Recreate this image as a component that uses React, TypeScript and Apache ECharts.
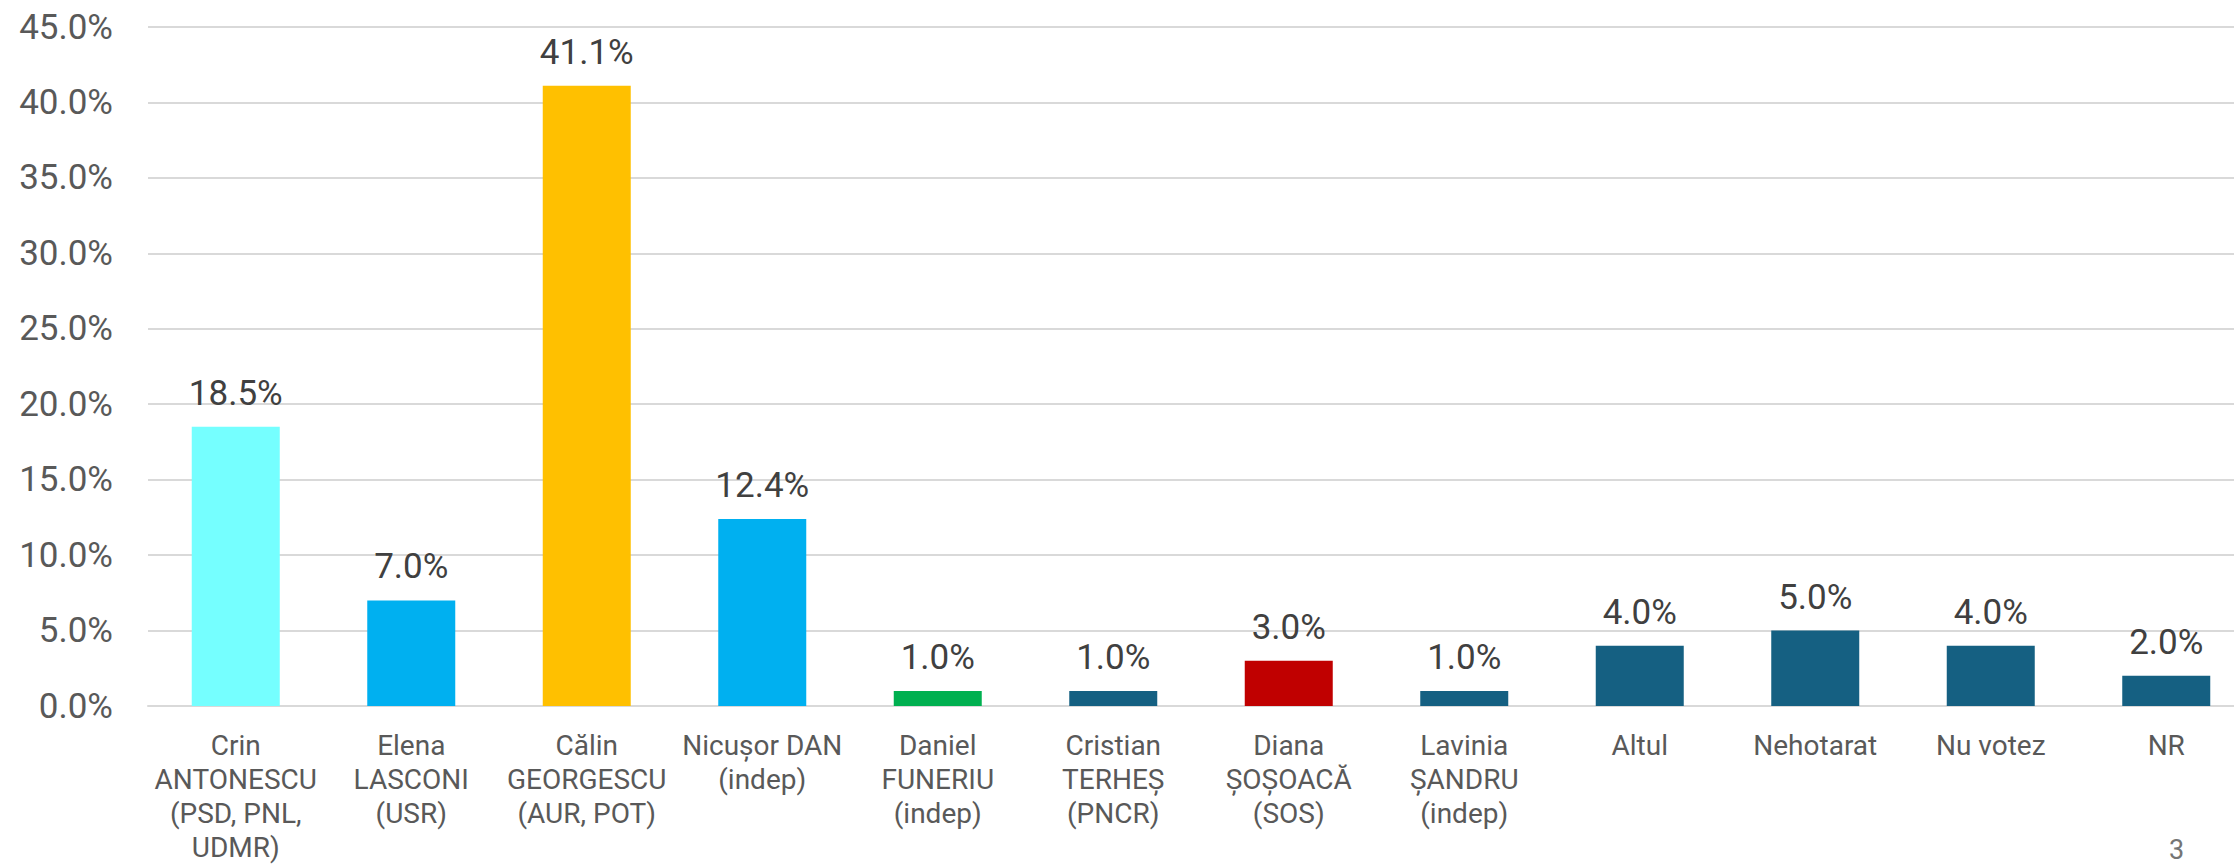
import React, { useEffect, useRef } from "react";
import * as echarts from "echarts";

const categories = [
  "Crin\nANTONESCU\n(PSD, PNL,\nUDMR)",
  "Elena\nLASCONI\n(USR)",
  "Călin\nGEORGESCU\n(AUR, POT)",
  "Nicușor DAN\n(indep)",
  "Daniel\nFUNERIU\n(indep)",
  "Cristian\nTERHEȘ\n(PNCR)",
  "Diana\nȘOȘOACĂ\n(SOS)",
  "Lavinia\nȘANDRU\n(indep)",
  "Altul",
  "Nehotarat",
  "Nu votez",
  "NR",
];
const values = [18.5, 7.0, 41.1, 12.4, 1.0, 1.0, 3.0, 1.0, 4.0, 5.0, 4.0, 2.0];
const barColors = [
  "#75FFFF",
  "#00B0F0",
  "#FFC000",
  "#00B0F0",
  "#00B050",
  "#156082",
  "#C00000",
  "#156082",
  "#156082",
  "#156082",
  "#156082",
  "#156082",
];
const pageNumber = "3";

const FONT = "Roboto, 'Liberation Sans', sans-serif";

export default function App() {
  const ref = useRef<HTMLDivElement>(null);
  useEffect(() => {
    if (!ref.current) return;
    const chart = echarts.init(ref.current, null, { renderer: "svg" });
    chart.setOption({
      animation: false,
      backgroundColor: "#FFFFFF",
      grid: { left: 148, top: 27, right: 6, bottom: 159, containLabel: false },
      xAxis: {
        type: "category",
        data: categories,
        axisLine: { show: true, lineStyle: { color: "#D9D9D9", width: 2 } },
        axisTick: { show: false },
        axisLabel: {
          interval: 0,
          margin: 22,
          color: "#595959",
          fontSize: 28,
          lineHeight: 34,
          fontFamily: FONT,
        },
      },
      yAxis: {
        type: "value",
        min: 0,
        max: 45,
        interval: 5,
        axisLine: { show: false },
        axisTick: { show: false },
        splitLine: { lineStyle: { color: "#D9D9D9", width: 2 } },
        axisLabel: {
          margin: 35,
          color: "#595959",
          fontSize: 35,
          fontFamily: FONT,
          formatter: (v: number) => v.toFixed(1) + "%",
        },
      },
      series: [
        {
          type: "bar",
          barWidth: 88,
          data: values.map((v, i) => ({ value: v, itemStyle: { color: barColors[i] } })),
          label: {
            show: true,
            position: "top",
            distance: 16,
            color: "#404040",
            fontSize: 35,
            fontFamily: FONT,
            formatter: (p: any) => Number(p.value).toFixed(1) + "%",
          },
        },
      ],
      graphic: [
        {
          type: "text",
          left: 2169,
          top: 836,
          style: {
            text: pageNumber,
            fill: "#757575",
            fontSize: 27,
            fontFamily: FONT,
          },
        },
      ],
    });
    return () => chart.dispose();
  }, []);
  return (
    <div style={{ position: "absolute", left: 0, top: 0, width: 2234, height: 865, overflow: "hidden" }}>
      <div ref={ref} style={{ width: 2260, height: 865 }} />
    </div>
  );
}
